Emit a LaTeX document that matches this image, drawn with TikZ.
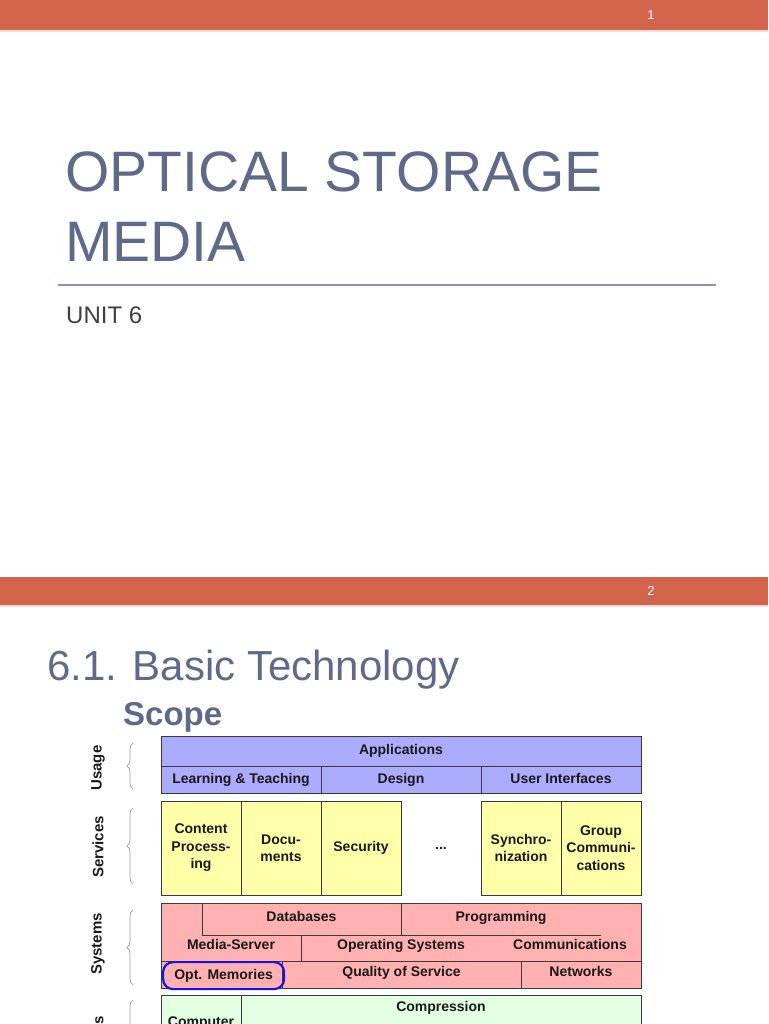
\documentclass[tikz,border=0pt]{standalone}
\usepackage{fontspec}
\setmainfont{Liberation Sans}
\usetikzlibrary{positioning, decorations.pathreplacing}

\definecolor{barred}{HTML}{D1644A}
\definecolor{barline}{HTML}{F3DDD6}
\definecolor{slate}{HTML}{5F6A8B}
\definecolor{rulecol}{HTML}{8A93AE}
\definecolor{usagecol}{HTML}{ACACFF}
\definecolor{servcol}{HTML}{FFFFAA}
\definecolor{syscol}{HTML}{FFB0B0}
\definecolor{basecol}{HTML}{E2FFE2}
\definecolor{cellline}{HTML}{3A3A3A}
\definecolor{ringblue}{HTML}{1414E6}

\begin{document}
\begin{tikzpicture}[
        x = 1pt, y = -1pt,
        cell/.style     = {draw=cellline, line width=0.9pt, inner sep=0pt, outer sep=0pt,
                           align=center, text=black!90,
                           font=\fontsize{14}{17.5}\selectfont\bfseries},
        oneline/.style  = {text height=10.5pt, text depth=3pt},
        celltext/.style = {inner sep=0pt, align=center, text=black!90, oneline,
                           font=\fontsize{14}{17.5}\selectfont\bfseries},
        usage/.style    = {cell, oneline, fill=usagecol, minimum height=27, minimum width=160},
        serv/.style     = {cell, fill=servcol, minimum width=80, minimum height=94},
        base/.style     = {cell, fill=basecol, minimum height=70},
        layer/.style    = {rotate=90, inner sep=0pt, text=black!90,
                           font=\fontsize{15}{18}\selectfont\bfseries},
        bracket/.style  = {draw=black!40, line width=0.7pt, decorate,
                           decoration={brace, amplitude=6pt}},
        bar/.style      = {fill=barred, draw=none},
        pagenum/.style  = {text=white, font=\fontsize{13}{15}\selectfont},
        heading/.style  = {anchor=base west, inner sep=0pt, text=slate}
    ]
        \useasboundingbox (0,0) rectangle (768,1024);
        \clip (0,0) rectangle (768,1024);
        \fill[white] (0,0) rectangle (768,1024);

        % slide 1
        \fill[bar] (0,0) rectangle (768,30);
        \draw[barline, line width=1.2pt] (0,31) -- (768,31);
        \node[pagenum] (num1) at (651,15) {1};
        \node[heading, font=\fontsize{57}{60}\selectfont] (title1) at (65,192) {OPTICAL STORAGE};
        \node[heading, font=\fontsize{57}{60}\selectfont] (title2) at (65,261) {MEDIA};
        \coordinate (ruleL) at (58,285);
        \coordinate (ruleR) at (716,285);
        \draw[rulecol, line width=1.5pt] (ruleL) -- (ruleR);
        \node[heading, text=black!75, font=\fontsize{24}{28}\selectfont] (unit) at (66,323) {UNIT 6};

        % slide 2
        \fill[bar] (0,577) rectangle (768,605);
        \draw[barline, line width=1.2pt] (0,606) -- (768,606);
        \node[pagenum] (num2) at (651,591) {2};
        \node[heading, font=\fontsize{42}{46}\selectfont] (sect) at (47,680) {6.1. Basic Technology};
        \node[heading, font=\fontsize{33}{36}\selectfont\bfseries] (scope) at (123,725) {Scope};

        % Usage
        \node[usage, minimum width=480, minimum height=30, anchor=north west] (apps) at (161,736) {Applications};
        \node[usage, anchor=north west] (learn) at (apps.south west) {Learning \& Teaching};
        \node[usage, right=0pt of learn] (design) {Design};
        \node[usage, right=0pt of design] (ui) {User Interfaces};

        % Services
        \node[serv, anchor=north west] (content) at (161,801) {Content\\Process-\\ing};
        \node[serv, right=0pt of content] (docs) {Docu-\\ments};
        \node[serv, right=0pt of docs] (secur) {Security};
        \node[serv, right=0pt of secur, draw=none, fill=none] (more) {...};
        \node[serv, right=0pt of more] (sync) {Synchro-\\nization};
        \node[serv, right=0pt of sync] (group) {Group\\Communi-\\cations};

        % Systems
        \node[cell, fill=syscol, minimum width=480, minimum height=85, anchor=north west] (sysbox) at (161,903) {};
        \draw[cellline, line width=0.9pt] (202,903) |- (601,935);
        \draw[cellline, line width=0.9pt] (401,903) -- (401,935);
        \draw[cellline, line width=0.9pt] (301,935) -- (301,961);
        \draw[cellline, line width=0.9pt] (161,961) -- (641,961);
        \draw[cellline, line width=0.9pt] (282,961) -- (282,988);
        \draw[cellline, line width=0.9pt] (521,961) -- (521,988);
        \node[celltext] (dbase)  at (301.5,918) {Databases};
        \node[celltext] (prog)   at (501,918)   {Programming};
        \node[celltext] (mserv)  at (231,946)   {Media-Server};
        \node[celltext] (opsys)  at (401,946)   {Operating Systems};
        \node[celltext] (comm)   at (570,946)   {Communications};
        \node[celltext] (qos)    at (401.5,973) {Quality of Service};
        \node[celltext] (netw)   at (581,973)   {Networks};
        \node[celltext, draw=ringblue, line width=2.2pt, rounded corners=10pt,
              minimum width=121, minimum height=27, anchor=north west] (optmem) at (162,961) {Opt. Memories};

        % Basics
        \node[base, minimum width=80, anchor=north west] (computer) at (161,995) {};
        \node[base, minimum width=400, right=0pt of computer] (compress) {};
        \node[celltext, anchor=north] at (computer.north) [yshift=-21pt] (comptxt) {Computer};
        \node[celltext] (comprtxt) at (441,1008) {Compression};

        % layer labels
        \node[layer] (lusage) at (98,768) {Usage};
        \node[layer] (lserv)  at (98,847) {Services};
        \node[layer] (lsys)   at (98,944) {Systems};
        \node[layer, anchor=east] (lbase) at (98,1016) {Basics};
        \draw[bracket] (133,789) -- (133,743);
        \draw[bracket] (133,884) -- (133,808);
        \draw[bracket] (133,985) -- (133,910);
        \draw[bracket] (133,1080) -- (133,1000);
\end{tikzpicture}
\end{document}
